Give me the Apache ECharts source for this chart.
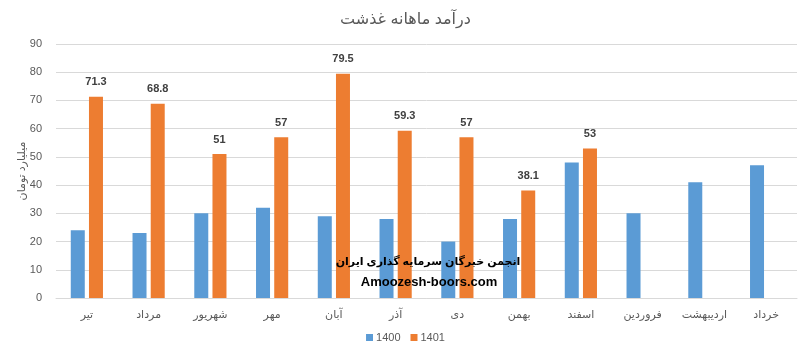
<!DOCTYPE html>
<html><head><meta charset="utf-8">
<script src="https://cdn.jsdelivr.net/npm/echarts@6/dist/echarts.min.js"></script>
<style>html,body{margin:0;padding:0;background:#fff}#c{width:811px;height:358px}</style>
</head><body><div id="c"></div>
<script>
const categories = ['تیر','مرداد','شهریور','مهر','آبان','آذر','دی','بهمن','اسفند','فروردین','اردیبهشت','خرداد'];
const s1400 = [24, 23, 30, 32, 29, 28, 20, 28, 48, 30, 41, 47];
const s1401 = [71.3, 68.8, 51, 57, 79.5, 59.3, 57, 38.1, 53, null, null, null];
const yTicks = {min: 0, max: 90, interval: 10};
const titleText = 'درآمد ماهانه غذشت';
const yName = 'میلیارد تومان';
const wm1 = 'انجمن خبرگان سرمایه گذاری ایران';
const wm2 = 'Amoozesh-boors.com';

const chart = echarts.init(document.getElementById('c'), null, {renderer: 'canvas'});
const font = 'Arial, "Liberation Sans", "DejaVu Sans", sans-serif';
chart.setOption({
  animation: false,
  textStyle: {fontFamily: font},
  title: {text: titleText, left: 'center', top: 7, textStyle: {fontSize: 16, fontWeight: 'normal', color: '#595959', fontFamily: font}},
  legend: {bottom: 10, left: 'center', itemWidth: 7, itemHeight: 7, itemGap: 10, icon: 'rect',
    textStyle: {fontSize: 11, color: '#595959', padding: [0,0,0,-2]}, data: ['1400','1401']},
  grid: {left: 56, right: 14, top: 44, bottom: 60, containLabel: false},
  xAxis: {type: 'category', data: categories,
    axisLine: {lineStyle: {color: '#d9d9d9'}}, axisTick: {show: false},
    axisLabel: {color: '#595959', fontSize: 11, margin: 11}},
  yAxis: {type: 'value', min: yTicks.min, max: yTicks.max, interval: yTicks.interval,
    name: yName, nameLocation: 'middle', nameGap: 29, nameRotate: 90, nameMoveOverlap: false,
    nameTextStyle: {color: '#595959', fontSize: 11},
    axisLine: {show: false}, axisTick: {show: false},
    axisLabel: {color: '#595959', fontSize: 11, margin: 14},
    splitLine: {lineStyle: {color: '#d9d9d9', width: 1}}},
  series: [
    {name: '1400', type: 'bar', data: s1400, barWidth: 14, barGap: '30%', itemStyle: {color: '#5b9bd5'}},
    {name: '1401', type: 'bar', data: s1401, barWidth: 14, itemStyle: {color: '#ed7d31'},
      label: {show: true, position: 'top', distance: 9, fontWeight: 'bold', fontSize: 11, color: '#404040'}}
  ],
  graphic: [
    {type: 'text', z: 100, zlevel: 1, x: 428, y: 262, style: {text: wm1, align: 'center', verticalAlign: 'middle', font: 'bold 11px ' + font, fill: '#000'}},
    {type: 'text', z: 100, zlevel: 1, x: 429, y: 282, style: {text: wm2, align: 'center', verticalAlign: 'middle', font: 'bold 13px ' + font, fill: '#000'}}
  ]
});
</script></body></html>
